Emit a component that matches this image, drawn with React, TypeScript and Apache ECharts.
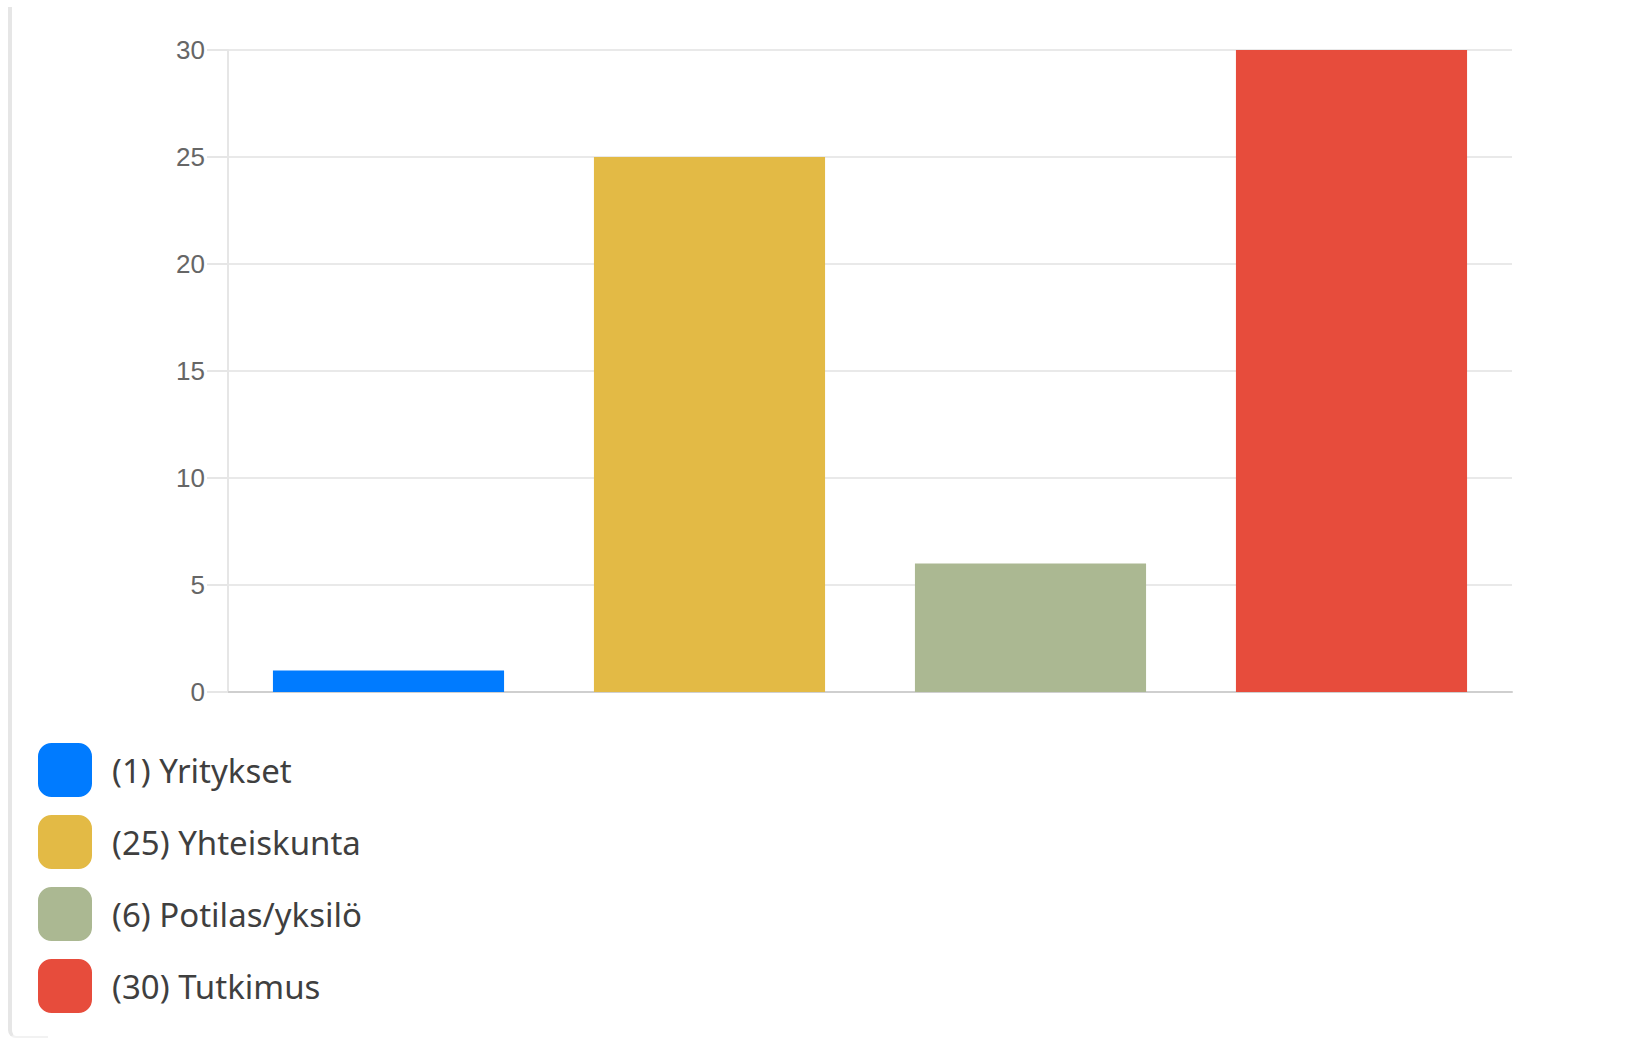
import React, { useEffect, useRef } from "react";
import * as echarts from "echarts";

const categories = ["Yritykset", "Yhteiskunta", "Potilas/yksilö", "Tutkimus"];
const values = [1, 25, 6, 30];
const colors = ["#007bff", "#e3ba45", "#abb892", "#e74c3c"];
const yTicks = { min: 0, max: 30, interval: 5 };

export default function App() {
  const ref = useRef<HTMLDivElement>(null);
  useEffect(() => {
    if (!ref.current) return;
    const chart = echarts.init(ref.current, undefined, { renderer: "svg" });
    const names = categories.map((c, i) => `(${values[i]}) ${c}`);
    const series = categories.map((c, i) => ({
      name: names[i],
      type: "bar",
      stack: "all",
      barWidth: "72%",
      itemStyle: { color: colors[i] },
      data: values.map((v, j) => (j === i ? v : "-")),
    }));
    chart.setOption({
      animation: false,
      grid: { left: 228, right: 122, top: 50, bottom: 348, containLabel: false },
      xAxis: {
        type: "category",
        data: categories,
        axisLabel: { show: false },
        axisTick: { show: false },
        axisLine: { show: true, lineStyle: { color: "#cfcfcf", width: 2 } },
      },
      yAxis: {
        type: "value",
        min: yTicks.min,
        max: yTicks.max,
        interval: yTicks.interval,
        axisLine: { show: true, lineStyle: { color: "#e6e6e6", width: 2 } },
        axisTick: { show: true, length: 21, lineStyle: { color: "#e6e6e6", width: 2 } },
        splitLine: { show: true, lineStyle: { color: "#e9e9e9", width: 2 } },
        axisLabel: {
          color: "#666",
          fontSize: 26,
          fontFamily: "Liberation Sans, Arial, sans-serif",
          margin: 23,
          padding: [0, 0, 5, 0],
        },
      },
      legend: {
        show: true,
        orient: "vertical",
        left: 38,
        top: 743,
        padding: 0,
        itemWidth: 54,
        itemHeight: 54,
        itemGap: 18,
        icon: "roundRect",
        selectedMode: false,
        textStyle: {
          color: "#3f3f3f",
          fontSize: 33,
          fontFamily: "Noto Sans, Open Sans, sans-serif",
          padding: [0, 0, 0, 15],
        },
        data: names,
      },
      series,
    });
    return () => chart.dispose();
  }, []);
  return (
    <div style={{ position: "fixed", left: 0, top: 0, width: 1634, height: 1040, background: "#fff" }}>
      <div
        style={{
          position: "absolute",
          left: 8,
          top: 7,
          width: 40,
          height: 1031,
          borderLeft: "4px solid #e6e6e6",
          borderBottom: "2px solid #f2f2f2",
          borderBottomLeftRadius: 8,
          boxSizing: "border-box",
        }}
      />
      <div ref={ref} style={{ position: "absolute", left: 0, top: 0, width: 1634, height: 1040 }} />
    </div>
  );
}
